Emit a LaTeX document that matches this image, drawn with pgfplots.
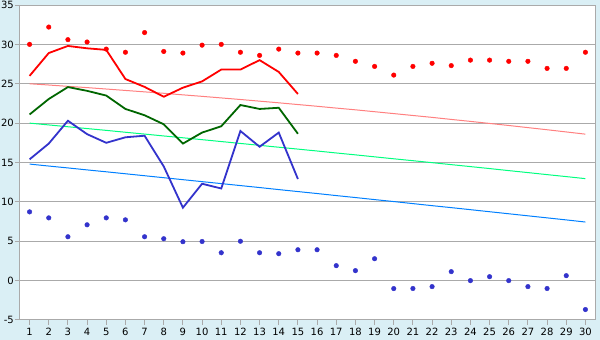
\documentclass[border=0pt]{standalone}
\usepackage{fontspec}
\setmainfont{DejaVu Sans}
\usepackage{pgfplots}
\pgfplotsset{compat=1.18}
\definecolor{bgblue}{HTML}{DAEFF5}
\definecolor{gridgray}{HTML}{AAAAAA}
\definecolor{cred}{HTML}{FF0000}
\definecolor{cgreen}{HTML}{006600}
\definecolor{cblue}{HTML}{3333CC}
\definecolor{tpink}{HTML}{FF8080}
\definecolor{tgreen}{HTML}{00FF80}
\definecolor{tblue}{HTML}{0080FF}
\begin{document}
\begin{tikzpicture}[x=1pt,y=1pt]
\fill[bgblue] (-20,-20) rectangle (580,320);
\useasboundingbox (-20,-20) rectangle (580,320);
\begin{axis}[at={(0,0)}, anchor=south west, scale only axis,
  width=575pt, height=315pt,
  xmin=0.5, xmax=30.5, ymin=-5, ymax=35,
  ytick={-5,0,...,35}, xtick={1,...,30},
  ymajorgrids, grid style={color=gridgray, line width=1pt},
  axis line style={gridgray, line width=1pt},
  axis background/.style={fill=white},
  tick align=outside, major tick length=5pt,
  tick style={gridgray, line width=1pt},
  xtick pos=bottom, ytick pos=left,
  tick label style={font=\fontsize{10}{12}\selectfont, text=black},
  yticklabel style={inner xsep=1pt},
  /pgf/number format/assume math mode=true,
  clip=false]
% trend lines
\addplot[tpink, line width=1pt] coordinates {(1,25.00)(2,24.84)(3,24.67)(4,24.51)(5,24.33)(6,24.15)(7,23.97)(8,23.79)(9,23.59)(10,23.40)(11,23.20)(12,23.00)(13,22.79)(14,22.58)(15,22.36)(16,22.14)(17,21.91)(18,21.69)(19,21.45)(20,21.21)(21,20.97)(22,20.73)(23,20.47)(24,20.22)(25,19.96)(26,19.70)(27,19.43)(28,19.16)(29,18.88)(30,18.60)};
\addplot[tgreen, line width=1pt] coordinates {(1,20.00)(2,19.77)(3,19.54)(4,19.31)(5,19.08)(6,18.84)(7,18.61)(8,18.37)(9,18.14)(10,17.90)(11,17.66)(12,17.42)(13,17.18)(14,16.94)(15,16.70)(16,16.46)(17,16.21)(18,15.97)(19,15.72)(20,15.47)(21,15.23)(22,14.98)(23,14.73)(24,14.48)(25,14.23)(26,13.97)(27,13.72)(28,13.46)(29,13.21)(30,12.95)};
\addplot[tblue, line width=1pt] coordinates {(1,14.80)(2,14.55)(3,14.31)(4,14.06)(5,13.82)(6,13.57)(7,13.32)(8,13.07)(9,12.82)(10,12.57)(11,12.32)(12,12.07)(13,11.82)(14,11.56)(15,11.31)(16,11.06)(17,10.80)(18,10.55)(19,10.29)(20,10.04)(21,9.78)(22,9.52)(23,9.27)(24,9.01)(25,8.75)(26,8.49)(27,8.23)(28,7.97)(29,7.71)(30,7.44)};
% main lines
\addplot[cred, line width=1.8pt] coordinates {(1,26.0)(2,28.9)(3,29.8)(4,29.5)(5,29.3)(6,25.6)(7,24.6)(8,23.35)(9,24.5)(10,25.3)(11,26.8)(12,26.8)(13,28.0)(14,26.5)(15,23.7)};
\addplot[cgreen, line width=1.8pt] coordinates {(1,21.1)(2,23.06)(3,24.58)(4,24.1)(5,23.5)(6,21.8)(7,21.0)(8,19.85)(9,17.4)(10,18.8)(11,19.6)(12,22.3)(13,21.8)(14,21.95)(15,18.65)};
\addplot[cblue, line width=1.8pt] coordinates {(1,15.4)(2,17.4)(3,20.3)(4,18.6)(5,17.5)(6,18.2)(7,18.4)(8,14.5)(9,9.26)(10,12.3)(11,11.7)(12,19.0)(13,17.0)(14,18.8)(15,12.9)};
% scatter
\addplot[only marks, mark=*, mark size=2.3pt, cred] coordinates {(1,30.0)(2,32.2)(3,30.6)(4,30.3)(5,29.4)(6,29.0)(7,31.5)(8,29.1)(9,28.9)(10,29.9)(11,30.0)(12,29.0)(13,28.6)(14,29.4)(15,28.9)(16,28.9)(17,28.6)(18,27.85)(19,27.2)(20,26.1)(21,27.2)(22,27.6)(23,27.3)(24,28.0)(25,28.0)(26,27.85)(27,27.85)(28,26.95)(29,26.95)(30,29.0)};
\addplot[only marks, mark=*, mark size=2.3pt, cblue] coordinates {(1,8.73)(2,7.97)(3,5.57)(4,7.09)(5,7.97)(6,7.72)(7,5.57)(8,5.32)(9,4.94)(10,4.97)(11,3.54)(12,5.0)(13,3.54)(14,3.42)(15,3.92)(16,3.92)(17,1.9)(18,1.27)(19,2.78)(20,-1.01)(21,-1.0)(22,-0.76)(23,1.14)(24,0)(25,0.5)(26,0)(27,-0.76)(28,-1.0)(29,0.63)(30,-3.67)};
\end{axis}
\end{tikzpicture}
\end{document}
